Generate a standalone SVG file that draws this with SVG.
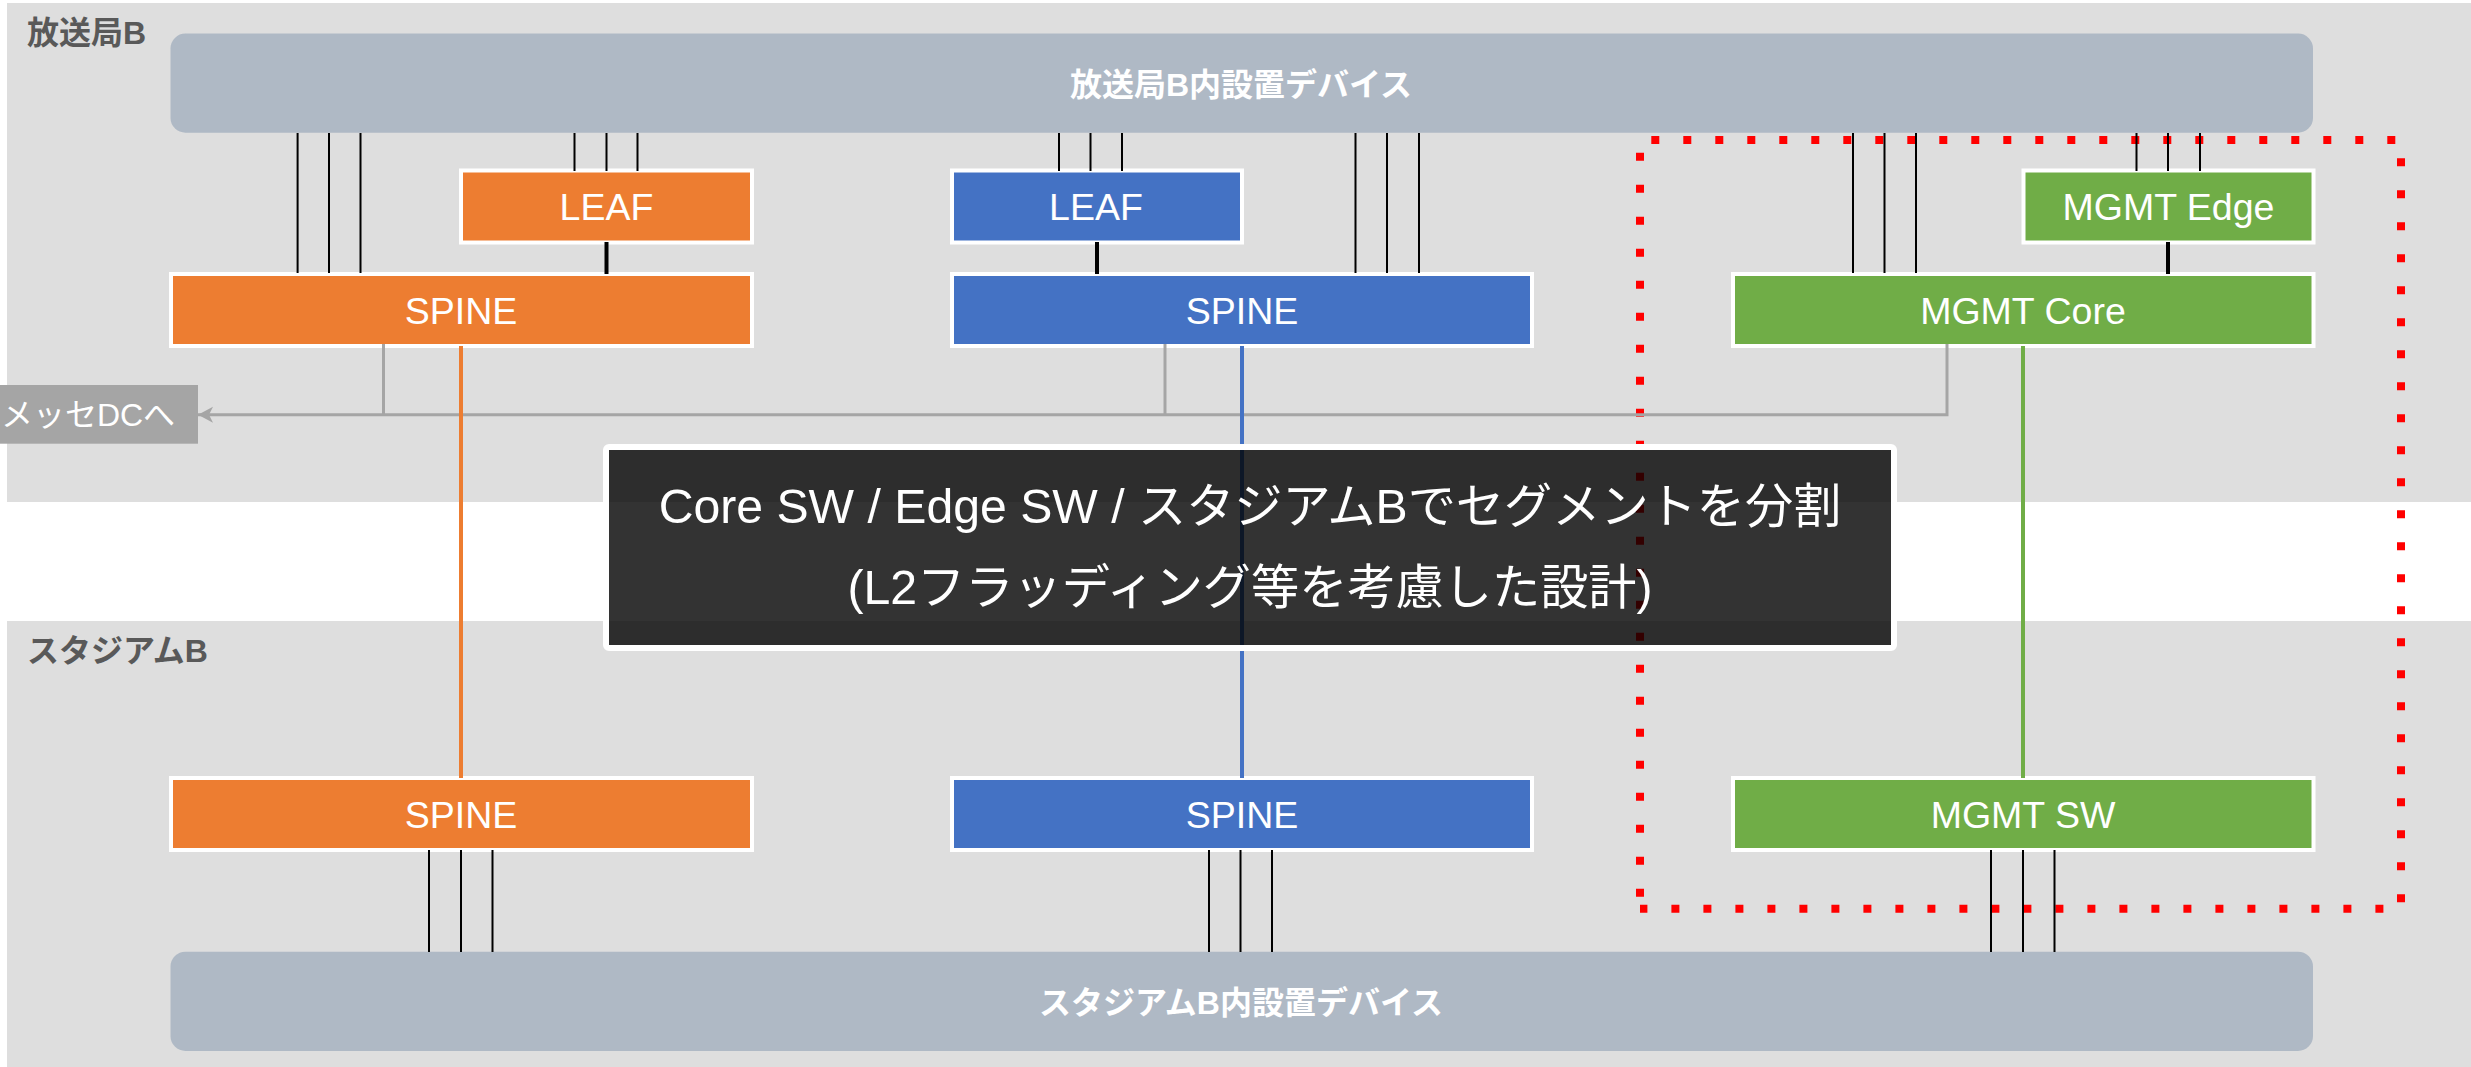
<svg xmlns="http://www.w3.org/2000/svg" width="2471" height="1067" viewBox="0 0 2471 1067">
<style>
text{font-family:"Liberation Sans","Noto Sans CJK JP",sans-serif;text-anchor:middle;fill:#fff}
.band{fill:#dedede}
.device{fill:#afb9c5}
.dev{font-size:32px;font-weight:bold}
.zone{font-size:32px;font-weight:bold;fill:#595959;text-anchor:start}
.n{stroke:#fff;stroke-width:4}
.o{fill:#ed7d31}.b{fill:#4472c4}.g{fill:#70ad47}
.lbl{font-size:37.500px}
.thin{stroke:#000;stroke-width:2;fill:none}
.thick{stroke:#000;stroke-width:4;fill:none}
.gray{stroke:#a5a5a5;stroke-width:3;fill:none}
.big{font-size:48.200px}
</style>
<defs>
<marker id="arr" markerUnits="userSpaceOnUse" markerWidth="17" markerHeight="18" refX="16" refY="9" orient="auto" viewBox="0 0 17 18"><path d="M16 9L1 1L5 9L1 17Z" fill="#a5a5a5"/></marker>
</defs>
<rect width="2471" height="1067" fill="#fff"/>
<g id="zone-broadcast"><rect class="band" x="7" y="3" width="2464" height="499"/><text class="zone" x="27" y="44">放送局B</text></g>
<g id="zone-stadium"><rect class="band" x="7" y="621" width="2464" height="446"/><text class="zone" x="27" y="662">スタジアムB</text></g>
<g id="device-broadcast"><rect class="device" x="170.500" y="33.500" width="2142.500" height="99.200" rx="15" ry="15"/><text class="dev" x="1241" y="96">放送局B内設置デバイス</text></g>
<g id="device-stadium"><rect class="device" x="170.500" y="951.700" width="2142.500" height="99.300" rx="15" ry="15"/><text class="dev" x="1241" y="1014">スタジアムB内設置デバイス</text></g>
<g id="red-zone"><path d="M1640 908.700V140H2401V908.700H1640" fill="none" stroke="#f00" stroke-width="8" stroke-dasharray="8 24" stroke-dashoffset="20"/></g>
<g id="leaf-orange"><rect class="n o" x="461" y="170.500" width="291" height="72"/><text class="lbl" x="606.500" y="220">LEAF</text></g>
<g id="spine-orange-top"><rect class="n o" x="171" y="274" width="581" height="72"/><text class="lbl" x="461" y="323.500">SPINE</text></g>
<g id="leaf-blue"><rect class="n b" x="952" y="170.500" width="290" height="72"/><text class="lbl" x="1096" y="220">LEAF</text></g>
<g id="spine-blue-top"><rect class="n b" x="952" y="274" width="580" height="72"/><text class="lbl" x="1242" y="323.500">SPINE</text></g>
<g id="mgmt-edge"><rect class="n g" x="2023.500" y="170.500" width="290" height="72"/><text class="lbl" x="2168.500" y="220">MGMT Edge</text></g>
<g id="mgmt-core"><rect class="n g" x="1733" y="274" width="580.500" height="72"/><text class="lbl" x="2023" y="323.500">MGMT Core</text></g>
<g id="spine-orange-bottom"><rect class="n o" x="171" y="778" width="581" height="72"/><text class="lbl" x="461" y="827.500">SPINE</text></g>
<g id="spine-blue-bottom"><rect class="n b" x="952" y="778" width="580" height="72"/><text class="lbl" x="1242" y="827.500">SPINE</text></g>
<g id="mgmt-sw"><rect class="n g" x="1733" y="778" width="580.500" height="72"/><text class="lbl" x="2023" y="827.500">MGMT SW</text></g>
<g id="label-dc"><rect x="0" y="385" width="198" height="58.700" fill="#a5a5a5"/><text x="88" y="426" font-size="32">メッセDCへ</text></g>
<g id="connectors">
<path class="thin" d="M297.600 133V273M329 133V273M360.500 133V273M574.500 133V171M606.500 133V171M637.500 133V171M1059 133V171M1090.500 133V171M1122 133V171M1355.500 133V273M1387 133V273M1419 133V273M1853 133V273M1884.500 133V273M1916 133V273M2136.500 133V171M2168 133V171M2200 133V171M429 850V952M461 850V952M492.500 850V952M1209 850V952M1240.500 850V952M1272 850V952M1991 850V952M2023 850V952M2054.500 850V952"/>
<path class="thick" d="M606.500 242V274M1097 242V274M2168 242V274"/>
<path class="gray" d="M1947 344V414.700H198" marker-end="url(#arr)"/>
<path class="gray" d="M383.500 344V414.700M1165 344V414.700"/>
<path d="M461 346V778" stroke="#ed7d31" stroke-width="4" fill="none"/>
<path d="M1242 346V778" stroke="#4472c4" stroke-width="4" fill="none"/>
<path d="M2023 346V778" stroke="#70ad47" stroke-width="4" fill="none"/>
</g>
<g id="callout"><rect x="606" y="447" width="1288" height="201" rx="3" fill="#000" fill-opacity="0.8"/><rect x="606" y="447" width="1288" height="201" rx="3" fill="none" stroke="#fff" stroke-width="6"/>
<text class="big" x="1250" y="523">Core SW / Edge SW / スタジアムBでセグメントを分割</text>
<text class="big" x="1250" y="604">(L2フラッディング等を考慮した設計)</text></g>
</svg>
